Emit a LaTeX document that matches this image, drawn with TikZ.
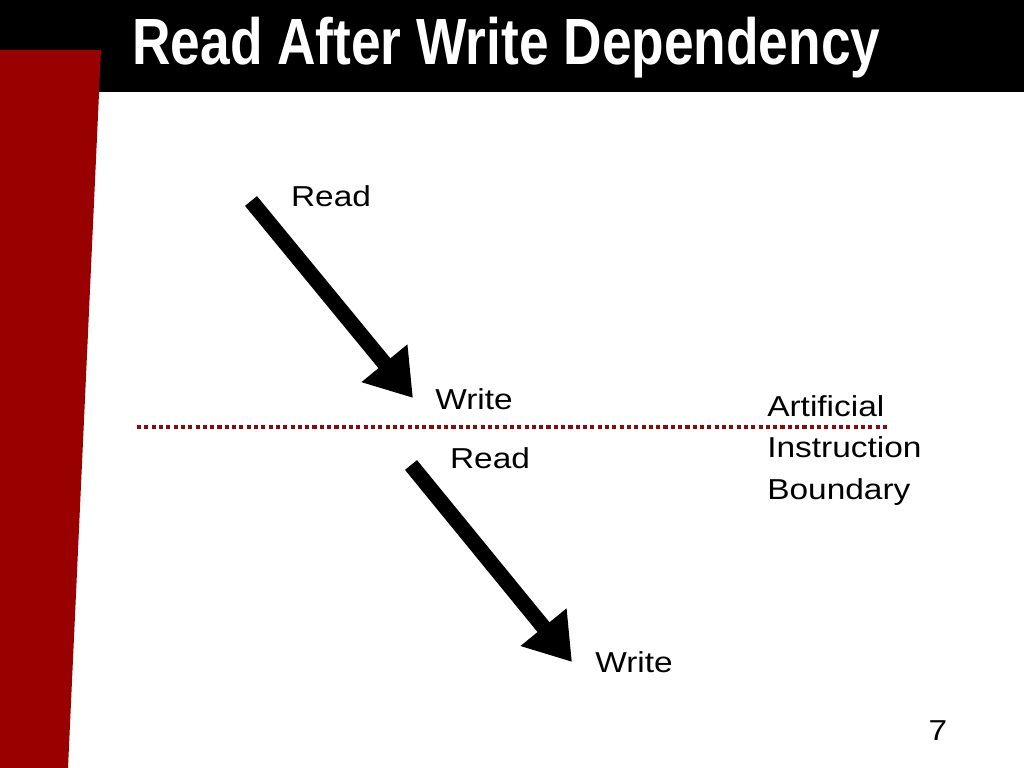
\documentclass[tikz,border=0pt]{standalone}
\usepackage{xcolor}
\usepackage{tikz}
\usepackage{fontspec}
\setmainfont{Liberation Sans}[FakeStretch=1.16]
\newfontfamily\titlefont{Liberation Sans}[FakeStretch=0.815]
\definecolor{slidered}{HTML}{990000}
\definecolor{boundary}{HTML}{8C0A0A}
\usetikzlibrary{arrows.meta, positioning, calc}

\begin{document}
\begin{tikzpicture}[
    x=0.025cm, y=-0.025cm,
    label/.style={inner sep=0pt, anchor=base, font=\fontsize{20.5}{29}\selectfont},
    bigarrow/.style={-{Triangle[width=40pt, length=32pt]}, line width=11pt},
    boundaryline/.style={boundary, line width=2.9pt, dash pattern=on 2.9pt off 2.3pt}
]
    \useasboundingbox (0,0) rectangle (1024,768);

    % Title bar
    \fill[black] (0,0) rectangle (1024,92);
    \fill[slidered] (0,50) -- (101,50) -- (68,768) -- (0,768) -- cycle;
    \node[inner sep=0pt, anchor=base west, text=white,
          font=\titlefont\bfseries\fontsize{46.5}{50}\selectfont] (title) at (132,65)
        {Read After Write Dependency};

    % First pair
    \node[label] (read1) at (331,206) {Read};
    \node[label] (write1) at (474,409) {Write};
    \coordinate (a1s) at (251,201);
    \coordinate (a1e) at (413,398);
    \draw[bigarrow] (a1s) -- (a1e);

    % Boundary
    \coordinate (bl) at (137,427);
    \coordinate (br) at (887,427);
    \draw[boundaryline] (bl) -- (br);
    \node[inner sep=0pt, anchor=base west, align=left,
          font=\fontsize{20.5}{29.5}\selectfont] (bound) at (767,499)
        {Artificial\\Instruction\\Boundary};

    % Second pair
    \node[label] (read2) at (490,468) {Read};
    \node[label] (write2) at (634,672) {Write};
    \coordinate (a2s) at (411,465);
    \coordinate (a2e) at (572,662);
    \draw[bigarrow] (a2s) -- (a2e);

    % Page number
    \node[label] (page) at (938,740) {7};
\end{tikzpicture}
\end{document}
